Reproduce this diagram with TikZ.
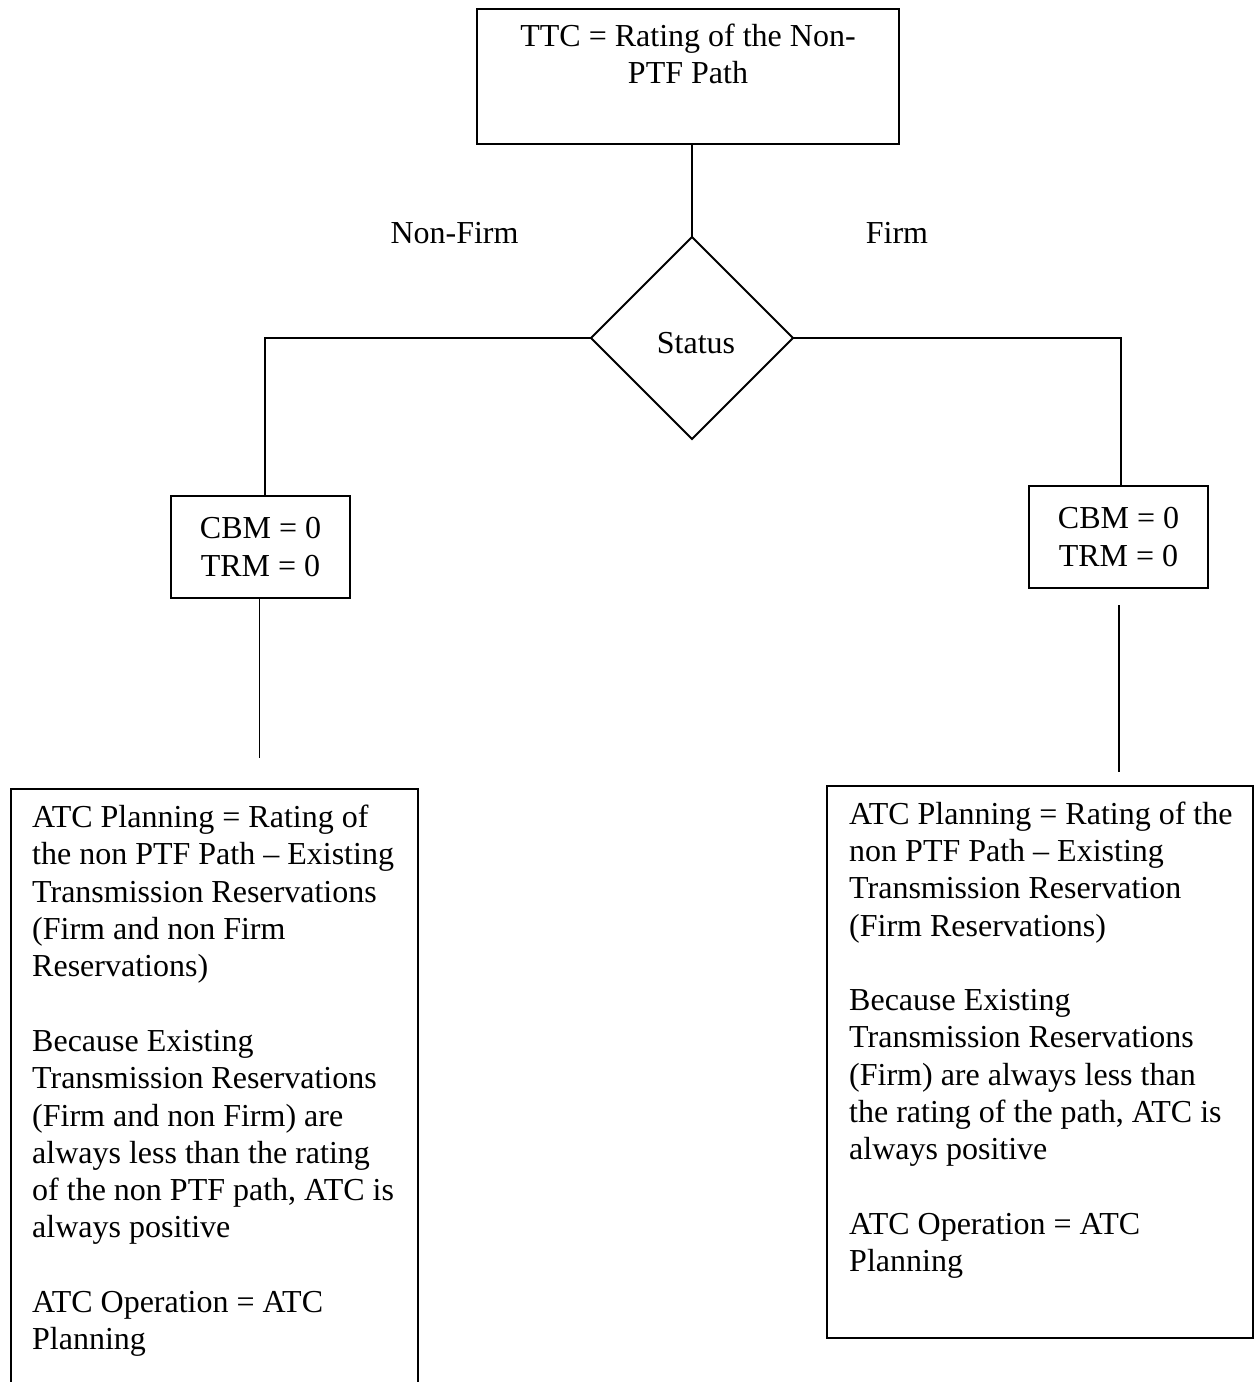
\documentclass[tikz,border=0pt]{standalone}
\usepackage{fontspec}
\setmainfont{Liberation Serif}
\usetikzlibrary{shapes.geometric}
\begin{document}
\begin{tikzpicture}[x=1pt,y=-1pt,
  every node/.style={font=\fontsize{32}{37.3}\selectfont},
  line/.style={draw=black,line width=1.9pt},
  boxnode/.style={line,rectangle,inner sep=0pt,outer sep=0pt},
  textblock/.style={inner sep=0pt,anchor=north west,align=left,execute at begin node=\strut},
  lbl/.style={inner sep=0pt,anchor=base}]
\clip (0,0) rectangle (1254,1382);
\fill[white] (0,0) rectangle (1254,1382);

% top box
\node[boxnode,minimum width=422pt,minimum height=135pt] (ttc) at (688,76.5) {};
\node[inner sep=0pt,anchor=north,align=center,execute at begin node=\strut] (ttctext) at (688,23.9)
  {TTC = Rating of the Non-\\PTF Path};

% decision
\node[line,diamond,inner sep=0pt,outer sep=0pt,minimum width=202pt,minimum height=202pt] (status) at (692,338) {};
\node[lbl] (statustext) at (696,353) {Status};

% branch labels
\node[lbl] (nonfirm) at (454.5,243) {Non-Firm};
\node[lbl] (firm) at (897,243) {Firm};

% margin boxes
\node[boxnode,minimum width=179pt,minimum height=102pt,align=center] (cbmL) at (260.5,547) {CBM = 0\\TRM = 0};
\node[boxnode,minimum width=179pt,minimum height=102pt,align=center] (cbmR) at (1118.5,537) {CBM = 0\\TRM = 0};

% result boxes
\node[boxnode,minimum width=407pt,minimum height=611pt] (resL) at (214.5,1094.5) {};
\node[boxnode,minimum width=426pt,minimum height=552pt] (resR) at (1040,1062) {};

\node[textblock] (resLtext) at (32,804.9) {ATC Planning = Rating of\\
the non PTF Path – Existing\\
Transmission Reservations\\
(Firm and non Firm\\
Reservations)\\[37.3pt]
Because Existing\\
Transmission Reservations\\
(Firm and non Firm) are\\
always less than the rating\\
of the non PTF path, ATC is\\
always positive\\[37.3pt]
ATC Operation = ATC\\
Planning};

\node[textblock] (resRtext) at (849,801.4) {ATC Planning = Rating of the\\
non PTF Path – Existing\\
Transmission Reservation\\
(Firm Reservations)\\[37.3pt]
Because Existing\\
Transmission Reservations\\
(Firm) are always less than\\
the rating of the path, ATC is\\
always positive\\[37.3pt]
ATC Operation = ATC\\
Planning};

% connectors
\coordinate (lend) at (259.5,758);
\coordinate (rstart) at (1119,605);
\coordinate (rend) at (1119,772);
\draw[line] (status.north |- ttc.south) -- (status.north);
\draw[line] (status.west) -| ([xshift=4.5pt]cbmL.north);
\draw[line] (status.east) -| ([xshift=2.5pt]cbmR.north);
\draw[line] ([xshift=-1pt]cbmL.south) -- (lend);
\draw[line] (rstart) -- (rend);
\end{tikzpicture}
\end{document}
